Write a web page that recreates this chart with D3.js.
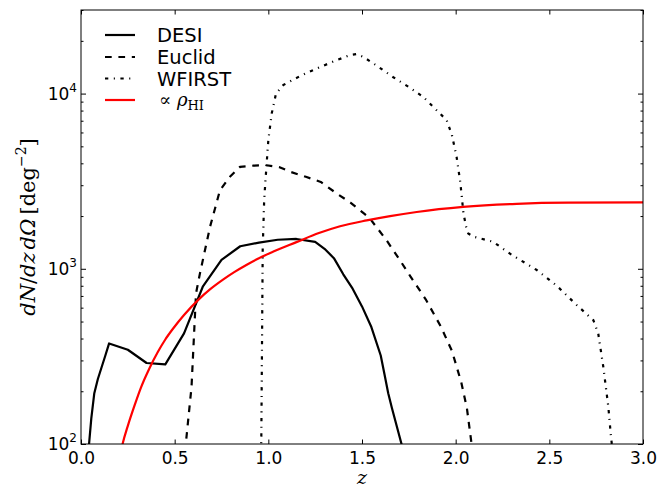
<!DOCTYPE html>
<html>
<head>
<meta charset="utf-8">
<script src="https://cdn.jsdelivr.net/npm/d3@7"></script>
<style>
  html, body { margin: 0; padding: 0; background: #fff; }
  svg { display: block; }
  .tick text { font-family: "DejaVu Sans", sans-serif; }
</style>
</head>
<body>
<div id="chart"></div>
<script>
// --- data ---
var zDesi = [0.04, 0.055, 0.071, 0.09, 0.107, 0.13, 0.15, 0.25, 0.35, 0.45, 0.55, 0.65, 0.75, 0.85, 0.95,
  1.05, 1.15, 1.25, 1.30, 1.35, 1.40, 1.45, 1.50, 1.55, 1.60, 1.62, 1.64, 1.66, 1.72];
var nDesi = [92, 140, 195, 235, 268, 320, 375, 345, 290, 285, 428, 790, 1124, 1345, 1410,
  1465, 1480, 1425, 1300, 1150, 930, 770, 610, 465, 320, 250, 195, 160, 92];

var zEuclid = [0.555, 0.59, 0.614, 0.635, 0.689, 0.742, 0.795, 0.849, 0.92, 0.99, 1.06, 1.12, 1.2, 1.28,
  1.365, 1.44, 1.51, 1.54, 1.63, 1.7, 1.76, 1.84, 1.92, 1.98, 2.03, 2.06, 2.085, 2.09];
var nEuclid = [90, 212, 725, 942, 1740, 2810, 3350, 3820, 3880, 3900, 3800, 3570, 3350, 3130,
  2690, 2380, 2070, 1950, 1460, 1130, 900, 670, 470, 340, 225, 160, 100, 92];

var zWfirst = [0.962, 0.97, 0.978, 0.99, 1.0, 1.018, 1.041, 1.08, 1.17, 1.258, 1.35, 1.436, 1.47, 1.507,
  1.58, 1.667, 1.75, 1.827, 1.9, 1.952, 1.98, 2.005, 2.025, 2.041, 2.055, 2.067, 2.1, 2.2, 2.3, 2.433,
  2.54, 2.646, 2.735, 2.761, 2.788, 2.815, 2.829, 2.836];
var nWfirst = [90, 1300, 2500, 3850, 5420, 7690, 10000, 11200, 12600, 13900, 15300, 16600, 16800, 16200,
  14400, 12400, 10900, 9570, 8000, 7050, 5800, 4350, 3100, 2100, 1750, 1590, 1520, 1426, 1200, 984,
  800, 621, 509, 428, 276, 163, 110, 95];

var zRho = [0.205, 0.222, 0.25, 0.285, 0.32, 0.365, 0.41, 0.45, 0.493, 0.55, 0.626, 0.69, 0.76, 0.82,
  0.885, 0.95, 1.027, 1.15, 1.27, 1.383, 1.525, 1.65, 1.792, 2.04, 2.326, 2.6, 3.0];
var nRho = [82, 100, 127, 165, 210, 270, 335, 395, 458, 545, 665, 765, 870, 960,
  1055, 1150, 1255, 1420, 1600, 1750, 1890, 2000, 2110, 2255, 2350, 2385, 2392];

var xTicks = [0, 0.5, 1.0, 1.5, 2.0, 2.5, 3.0];
var yMajor = [1e2, 1e3, 1e4];
var yExp = ['2', '3', '4'];

var legendNames = ['DESI', 'Euclid', 'WFIRST'];

// --- layout ---
var W = 672, H = 491;
var L = 81, R = 643, T = 10, B = 444;

var svg = d3.select('#chart').append('svg')
  .attr('width', W).attr('height', H);

var x = d3.scaleLinear().domain([0, 3]).range([L, R]);
var y = d3.scaleLog().domain([100, 30000]).range([B, T]);

svg.append('clipPath').attr('id', 'clip')
  .append('rect').attr('x', L).attr('y', T).attr('width', R - L).attr('height', B - T);

// minor log ticks
var yMinor = [];
[100, 1000, 10000].forEach(function (d) {
  for (var k = 2; k <= 9; k++) if (d * k <= 30000) yMinor.push(d * k);
});

// axes (ticks inward)
function styleAxis(g) {
  g.select('.domain').remove();
  g.selectAll('line').attr('stroke', '#000').attr('stroke-width', 1);
}
svg.append('g').attr('transform', 'translate(0,' + B + ')')
  .call(d3.axisBottom(x).tickValues(xTicks).tickSize(-4.5).tickPadding(8)
    .tickFormat(d3.format('.1f')))
  .call(styleAxis)
  .selectAll('text').attr('font-size', 17).attr('fill', '#000');
svg.append('g').attr('transform', 'translate(0,' + T + ')')
  .call(d3.axisTop(x).tickValues(xTicks).tickSize(-4.5).tickFormat(''))
  .call(styleAxis);
svg.append('g').attr('transform', 'translate(' + L + ',0)')
  .call(d3.axisLeft(y).tickValues(yMajor).tickSize(-5).tickFormat(''))
  .call(styleAxis);
svg.append('g').attr('transform', 'translate(' + L + ',0)')
  .call(d3.axisLeft(y).tickValues(yMinor).tickSize(-2.5).tickFormat(''))
  .call(styleAxis);
svg.append('g').attr('transform', 'translate(' + R + ',0)')
  .call(d3.axisRight(y).tickValues(yMajor).tickSize(-5).tickFormat(''))
  .call(styleAxis);
svg.append('g').attr('transform', 'translate(' + R + ',0)')
  .call(d3.axisRight(y).tickValues(yMinor).tickSize(-2.5).tickFormat(''))
  .call(styleAxis);

// y tick labels 10^n
var ylab = svg.append('g').attr('font-family', 'DejaVu Sans, sans-serif').attr('fill', '#000');
yMajor.forEach(function (v, i) {
  var t = ylab.append('text')
    .attr('x', L - 4).attr('y', y(v) + 6)
    .attr('text-anchor', 'end').attr('font-size', 17);
  t.append('tspan').text('10');
  t.append('tspan').attr('font-size', 12).attr('dy', -8).text(yExp[i]);
});

// series
var lineGen = d3.line()
  .x(function (d) { return x(d[0]); })
  .y(function (d) { return y(d[1]); });
var smoothGen = d3.line()
  .x(function (d) { return x(d[0]); })
  .y(function (d) { return y(d[1]); })
  .curve(d3.curveMonotoneX);

function pairs(zs, ns) { return zs.map(function (z, i) { return [z, ns[i]]; }); }

var series = [
  { data: pairs(zDesi, nDesi), color: '#000', dash: null, gen: lineGen },
  { data: pairs(zEuclid, nEuclid), color: '#000', dash: '6.7,6.7', gen: lineGen },
  { data: pairs(zWfirst, nWfirst), color: '#000', dash: '3.3,5.5,1.1,5.5', gen: lineGen },
  { data: pairs(zRho, nRho), color: '#ff0000', dash: null, gen: smoothGen }
];

var plot = svg.append('g').attr('clip-path', 'url(#clip)');
series.forEach(function (s) {
  plot.append('path')
    .attr('d', s.gen(s.data))
    .attr('fill', 'none')
    .attr('stroke', s.color)
    .attr('stroke-width', 2.2)
    .attr('stroke-linejoin', 'round')
    .attr('stroke-dasharray', s.dash);
});

// frame
svg.append('rect')
  .attr('x', L).attr('y', T).attr('width', R - L).attr('height', B - T)
  .attr('fill', 'none').attr('stroke', '#000').attr('stroke-width', 1);

// legend
var leg = svg.append('g');
var legY = [35, 57, 78.5, 100];
series.forEach(function (s, i) {
  leg.append('line')
    .attr('x1', 105).attr('x2', 135).attr('y1', legY[i]).attr('y2', legY[i])
    .attr('stroke', s.color).attr('stroke-width', 2.2)
    .attr('stroke-dasharray', s.dash);
  if (i < 3) {
    leg.append('text')
      .attr('x', 157).attr('y', legY[i] + 7)
      .attr('font-family', 'DejaVu Sans, sans-serif').attr('font-size', 19.5)
      .attr('fill', '#000').text(legendNames[i]);
  }
});
var rhoLab = leg.append('text')
  .attr('x', 159).attr('y', legY[3] + 6)
  .attr('font-family', 'DejaVu Serif, serif').attr('font-size', 18).attr('fill', '#000');
rhoLab.append('tspan').text('\u221D ');
rhoLab.append('tspan').attr('font-style', 'italic').text('\u03C1');
rhoLab.append('tspan').attr('font-size', 13).attr('dy', 4).text('HI');

// axis labels
svg.append('text')
  .attr('x', 362).attr('y', 484)
  .attr('text-anchor', 'middle')
  .attr('font-family', 'DejaVu Serif, serif').attr('font-style', 'italic')
  .attr('font-size', 19).attr('fill', '#000').text('z');

var yl = svg.append('text')
  .attr('transform', 'translate(35,227) rotate(-90)')
  .attr('text-anchor', 'middle')
  .attr('font-family', 'DejaVu Serif, serif')
  .attr('font-size', 21).attr('fill', '#000');
yl.append('tspan').attr('font-style', 'italic').text('dN');
yl.append('tspan').text('/');
yl.append('tspan').attr('font-style', 'italic').text('dz');
yl.append('tspan').attr('font-style', 'italic').attr('dx', 3).text('d\u03A9');
yl.append('tspan').attr('dx', 4).text('[deg');
yl.append('tspan').attr('font-size', 14).attr('dy', -9).text('\u22122');
yl.append('tspan').attr('dy', 9).text(']');
</script>
</body>
</html>
